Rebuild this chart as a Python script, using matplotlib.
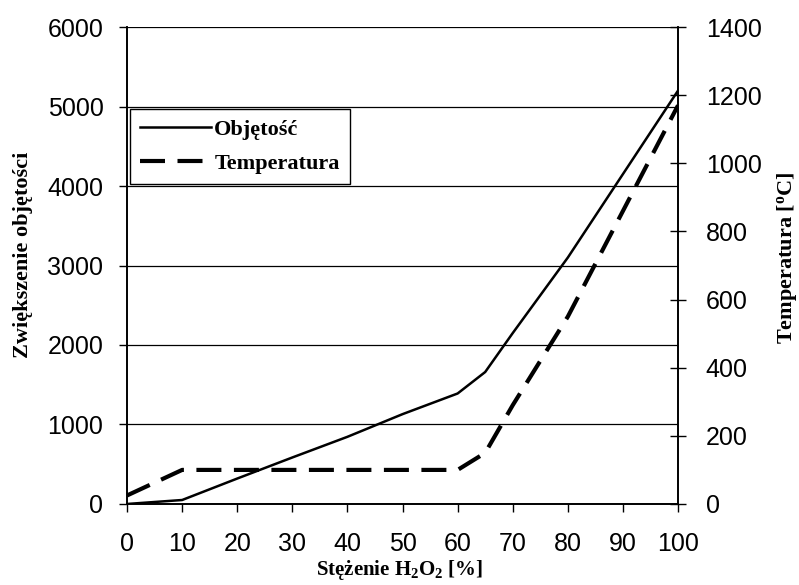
import matplotlib
matplotlib.use("Agg")
import matplotlib.pyplot as plt

# dane
stezenie = [0, 10, 20, 30, 40, 50, 60, 65, 70, 80, 90, 100]
objetosc = [0, 50, 320, 585, 845, 1130, 1390, 1660, 2150, 3100, 4150, 5200]

stezenie_t = [0, 10, 60, 65, 70, 80, 90, 100]
temperatura = [25, 100, 100, 150, 290, 550, 860, 1170]

plt.rcParams['font.family'] = 'Liberation Sans'
plt.rcParams['mathtext.default'] = 'regular'

fig = plt.figure(figsize=(7.99, 5.85), dpi=100)
ax = fig.add_axes([0.159, 0.1385, 0.6896, 0.8153])
ax2 = ax.twinx()

l1, = ax.plot(stezenie, objetosc, color='black', lw=1.8, label='Objętość')
l2, = ax2.plot(stezenie_t, temperatura, color='black', lw=3, dashes=(6, 3), label='Temperatura')

ax.set_xlim(0, 100)
ax.set_ylim(0, 6000)
ax2.set_ylim(0, 1400)
ax.set_xticks(range(0, 101, 10))
ax.set_yticks(range(0, 6001, 1000))
ax2.set_yticks(range(0, 1401, 200))

ax.grid(axis='y', color='black', lw=0.9)
ax.set_axisbelow(True)
for a in (ax, ax2):
    a.spines['top'].set_visible(False)
    a.spines['left'].set_linewidth(1.2)
    a.spines['bottom'].set_linewidth(1.2)
    a.spines['right'].set_linewidth(1.2)

ax.tick_params(axis='x', direction='out', length=6, width=1, pad=14, labelsize=18)
ax.tick_params(axis='y', direction='out', length=6, width=1, pad=11, labelsize=18)
ax2.tick_params(axis='y', direction='inout', length=12, width=1, pad=14, labelsize=18)

lab = {'family': 'Liberation Serif', 'fontweight': 'bold', 'fontsize': 16}
ax.set_xlabel('Stężenie H$_2$O$_2$ [%]', family='Liberation Serif', fontweight='bold', fontsize=15)
ax.set_ylabel('Zwiększenie objętości', **lab)
ax2.set_ylabel('Temperatura [$^{o}$C]', **lab)
ax.xaxis.set_label_coords(0.494, -0.113)
ax.yaxis.set_label_coords(-0.171, 0.522)
ax2.yaxis.set_label_coords(1.176, 0.516)

leg = ax2.legend(handles=[l1, l2], loc='upper left', bbox_to_anchor=(0.005, 0.828),
                 borderaxespad=0, fancybox=False, framealpha=1, edgecolor='black',
                 handlelength=3.2, handletextpad=0.15, borderpad=0.45, labelspacing=0.6,
                 prop={'family': 'Liberation Serif', 'weight': 'bold', 'size': 16})
leg.get_frame().set_linewidth(1)

fig.savefig('out.png', dpi=100)
